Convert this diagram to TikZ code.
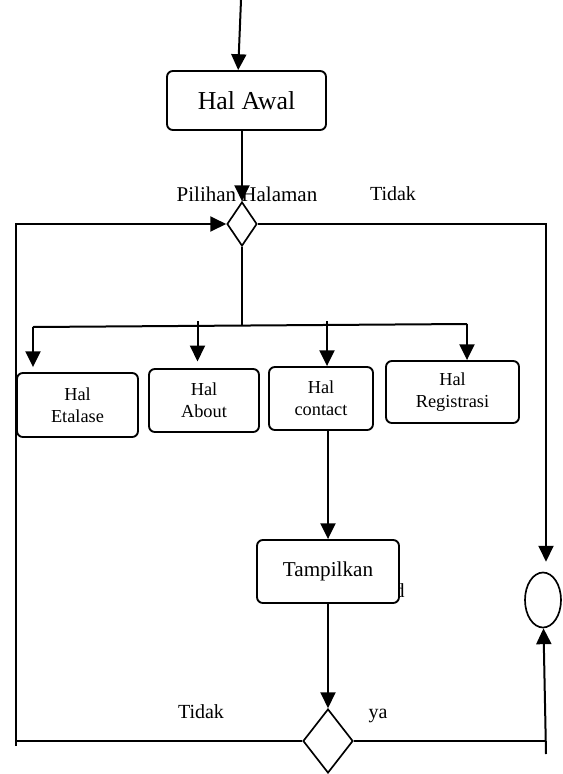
\documentclass[tikz,border=0pt]{standalone}
\usepackage{fontspec}
\setmainfont{Liberation Serif}
\usetikzlibrary{arrows.meta,shapes.geometric}

\begin{document}
\begin{tikzpicture}[x=0.6pt,y=-0.6pt,
        garis/.style={line width=1.2pt},
        panah/.style={line width=1.2pt,-{Triangle[length=9.5pt,width=9pt]}},
        halaman/.style={draw,line width=1.1pt,rounded corners=3.5pt,inner sep=0pt,align=center,font=\fontsize{11}{13.2}\selectfont},
        pilihan/.style={draw,diamond,line width=1pt,inner sep=0pt},
        teks/.style={font=\fontsize{12}{14}\selectfont}]
        \useasboundingbox (0,0) rectangle (563,774);

        \coordinate (mulai) at (241,0);
        \node[halaman,minimum width=95.4pt,minimum height=35.4pt,font=\fontsize{15.5}{18}\selectfont] (awal) at (246.5,100.5) {Hal Awal};

        \node[teks,font=\fontsize{12.6}{15}\selectfont] (judul) at (247,194) {Pilihan Halaman};
        \node[teks] (tidakatas) at (393,194) {Tidak};
        \node[pilihan,minimum width=18pt,minimum height=26.4pt] (pilih) at (242,224) {};

        \draw [panah] (mulai) -- ([xshift=-5pt]awal.north);
        \draw [panah] (awal.south -| pilih.north) -- (pilih.north);

        % halaman pilihan
        \node[halaman,minimum width=72.6pt,minimum height=38.4pt] (etalase) at (77.5,405) {Hal\\Etalase};
        \node[halaman,minimum width=66pt,minimum height=37.8pt] (about) at (204,400.5) {Hal\\About};
        \node[halaman,minimum width=62.4pt,minimum height=37.8pt] (contact) at (321,398.5) {Hal\\contact};
        \node[halaman,minimum width=79.8pt,minimum height=37.2pt] (registrasi) at (452.5,392) {Hal\\Registrasi};

        \coordinate (bagi) at (242,326);
        \coordinate (c1) at (33,327);
        \coordinate (c2) at (197.5,321);
        \coordinate (c3) at (327,321);
        \coordinate (c4) at (467,324);
        \draw [garis] (pilih.south) -- (bagi);
        \draw [garis] (c1) -- (c4);
        \draw [panah] (c1) -- ([yshift=3pt]c1 |- etalase.north);
        \draw [panah] (c2) -- ([yshift=4pt]c2 |- about.north);
        \draw [panah] (c3) -- (c3 |- contact.north);
        \draw [panah] (c4) -- (c4 |- registrasi.north);

        \node[teks,anchor=base east,inner sep=0pt] (sisa) at (405,597) {d};
        \node[halaman,fill=white,minimum width=85.2pt,minimum height=37.8pt,font=\fontsize{12.7}{15}\selectfont] (tampil) at (328,571.5) {\raisebox{3pt}{Tampilkan}};
        \draw [panah] (contact.south -| tampil.north) -- (tampil.north);

        \node[pilihan,minimum width=30pt,minimum height=38.4pt] (cek) at (328,741) {};
        \draw [panah] (tampil.south) -- (cek.north);
        \node[teks,anchor=base] (tidakbawah) at (201,718) {Tidak};
        \node[teks,anchor=base] (ya) at (378,718) {ya};

        \node[draw,ellipse,line width=1pt,inner sep=0pt,minimum width=21.6pt,minimum height=33pt] (akhir) at (543,600) {};

        % jalur kembali
        \coordinate (kiribawah) at (16,746);
        \coordinate (kiriatas) at (16,224);
        \coordinate (kananatas) at (546,224);
        \coordinate (kananbawah) at (546,754);
        \draw [garis] (cek.west) -- (cek.west -| kiribawah);
        \draw [panah] (kiribawah) -- (kiriatas) -- (pilih.west);
        \draw [panah] (pilih.east) -- (kananatas) -- ([yshift=6pt]kananatas |- akhir.north);
        \draw [garis] (cek.east) -- (cek.east -| kananbawah);
        \draw [panah] (kananbawah) -- ([xshift=-1.5pt]kananbawah |- akhir.south);
    \end{tikzpicture}
\end{document}
